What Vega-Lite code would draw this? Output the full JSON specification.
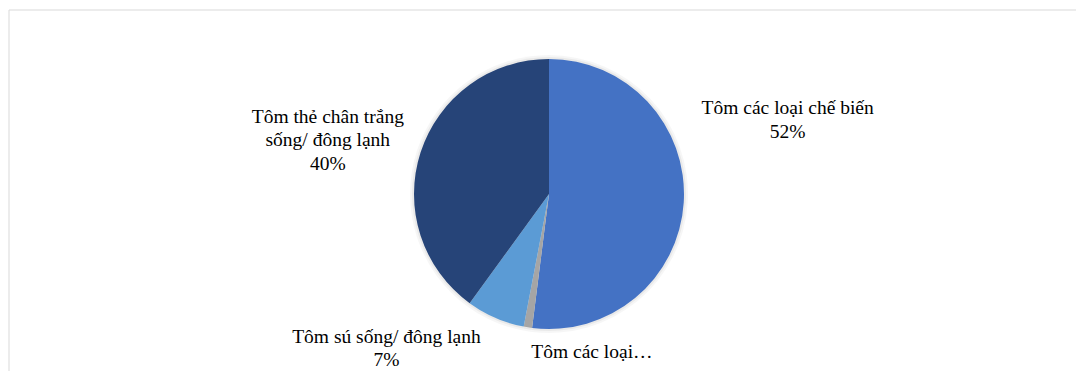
{
  "$schema": "https://vega.github.io/schema/vega-lite/v6.json",
  "width": 1080,
  "height": 368,
  "padding": {"left": 8, "top": 9, "right": 0, "bottom": 0},
  "background": "white",
  "config": {
    "view": {"stroke": null},
    "text": {"font": "Liberation Serif", "fontSize": 19.5, "color": "#000000", "lineHeight": 23.5, "align": "center", "baseline": "middle"}
  },
  "data": {
    "values": [
      {"ord": 1, "cat": "Tôm các loại chế biến", "value": 52, "label": ["Tôm các loại chế biến", "52%"]},
      {"ord": 2, "cat": "Tôm các loại khác", "value": 1, "label": ["Tôm các loại…"]},
      {"ord": 3, "cat": "Tôm sú sống/ đông lạnh", "value": 7, "label": ["Tôm sú sống/ đông lạnh", "7%"]},
      {"ord": 4, "cat": "Tôm thẻ chân trắng sống/ đông lạnh", "value": 40, "label": ["Tôm thẻ chân trắng", "sống/ đông lạnh", "40%"]}
    ]
  },
  "layer": [
    {
      "data": {"values": [{"frame": 1}]},
      "mark": {"type": "rect", "fill": "transparent", "stroke": "#d9d9d9", "strokeWidth": 1},
      "encoding": {}
    },
    {
      "mark": {"type": "arc", "outerRadius": 139, "fill": "#000000", "opacity": 0.035},
      "encoding": {
        "theta": {"field": "value", "type": "quantitative", "stack": true},
        "order": {"field": "ord", "type": "quantitative"}
      }
    },
    {
      "mark": {"type": "arc", "outerRadius": 137, "fill": "#000000", "opacity": 0.05},
      "encoding": {
        "theta": {"field": "value", "type": "quantitative", "stack": true},
        "order": {"field": "ord", "type": "quantitative"}
      }
    },
    {
      "mark": {"type": "arc", "outerRadius": 135},
      "encoding": {
        "theta": {"field": "value", "type": "quantitative", "stack": true},
        "order": {"field": "ord", "type": "quantitative"},
        "color": {
          "field": "cat",
          "type": "nominal",
          "scale": {
            "domain": ["Tôm các loại chế biến", "Tôm các loại khác", "Tôm sú sống/ đông lạnh", "Tôm thẻ chân trắng sống/ đông lạnh"],
            "range": ["#4472C4", "#A5A5A5", "#5B9BD5", "#264478"]
          },
          "legend": null
        }
      }
    },
    {
      "mark": {"type": "text", "radius": 160, "dx": 79, "dy": -96},
      "encoding": {
        "theta": {"field": "value", "type": "quantitative", "stack": true},
        "order": {"field": "ord", "type": "quantitative"},
        "text": {"condition": {"test": "datum.ord === 1", "field": "label"}, "value": ""}
      }
    },
    {
      "mark": {"type": "text", "radius": 160, "dx": 68, "dy": 0},
      "encoding": {
        "theta": {"field": "value", "type": "quantitative", "stack": true},
        "order": {"field": "ord", "type": "quantitative"},
        "text": {"condition": {"test": "datum.ord === 2", "field": "label"}, "value": ""}
      }
    },
    {
      "mark": {"type": "text", "radius": 160, "dx": -99, "dy": -4},
      "encoding": {
        "theta": {"field": "value", "type": "quantitative", "stack": true},
        "order": {"field": "ord", "type": "quantitative"},
        "text": {"condition": {"test": "datum.ord === 3", "field": "label"}, "value": ""}
      }
    },
    {
      "mark": {"type": "text", "radius": 160, "dx": -69, "dy": -28},
      "encoding": {
        "theta": {"field": "value", "type": "quantitative", "stack": true},
        "order": {"field": "ord", "type": "quantitative"},
        "text": {"condition": {"test": "datum.ord === 4", "field": "label"}, "value": ""}
      }
    }
  ]
}
